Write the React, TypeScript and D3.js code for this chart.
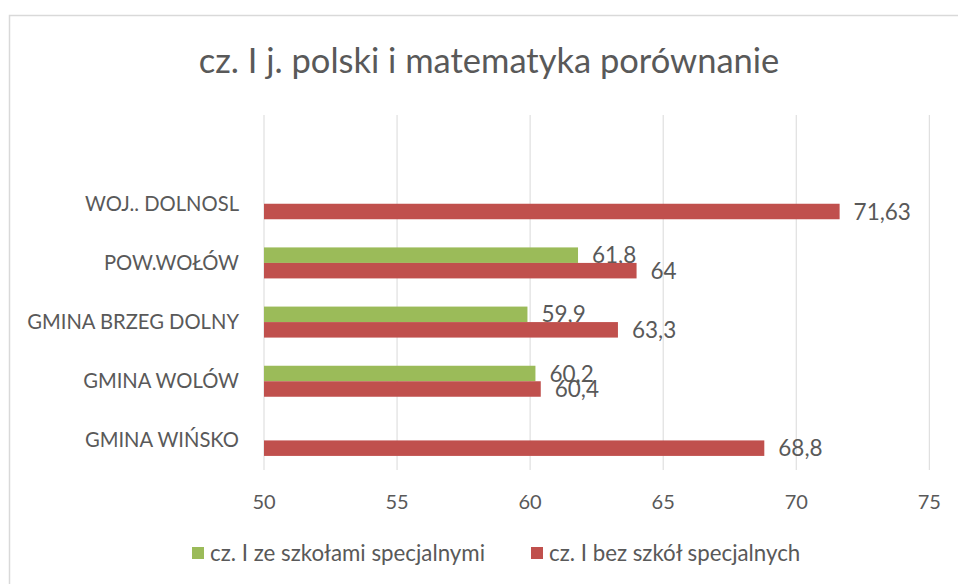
import React from "react";
import * as d3 from "d3";

const title = "cz. I j. polski i matematyka porównanie";
const categories = ["", "WOJ.. DOLNOSL", "POW.WOŁÓW", "GMINA BRZEG DOLNY", "GMINA WOLÓW", "GMINA WIŃSKO"];
const seriesNames = ["cz. I ze szkołami specjalnymi", "cz. I bez szkół specjalnych"];
const withSpecial: (number | null)[] = [null, null, 61.8, 59.9, 60.2, null];
const withoutSpecial: (number | null)[] = [null, 71.63, 64, 63.3, 60.4, 68.8];
const xTicks = [50, 55, 60, 65, 70, 75];
const colors = ["#9BBB59", "#C0504D"];

const W = 958;
const H = 584;
const FONT = "Lato, 'Open Sans', sans-serif";
const TEXT = "#595959";

export default function App() {
  const x = d3.scaleLinear().domain([50, 75]).range([264, 929.3]);
  const y = d3.scaleBand<string>().domain(categories.map((c, i) => String(i))).range([115, 470]).padding(0);
  const bw = y.bandwidth();
  const barH = bw * 0.262;
  const series = [withSpecial, withoutSpecial];
  const fmt = (v: number) => String(v).replace(".", ",");

  return (
    <svg width={W} height={H} style={{ position: "absolute", left: 0, top: 0, background: "#fff" }} fontFamily={FONT}>
      <rect x={0} y={0} width={W} height={H} fill="#fff" />
      <rect x={9.5} y={15.5} width={980} height={620} fill="none" stroke="#D9D9D9" strokeWidth={1.5} />
      <text x={489} y={73} textAnchor="middle" fontSize={34.5} fill={TEXT}>{title}</text>
      {xTicks.map((t) => (
        <g key={t}>
          <line x1={x(t)} x2={x(t)} y1={115} y2={470} stroke="#D9D9D9" strokeWidth={1} />
          <text x={x(t)} y={509} textAnchor="middle" fontSize={20} fill={TEXT}>{t}</text>
        </g>
      ))}
      {categories.map((c, i) => {
        const cy = (y(String(i)) as number) + bw / 2;
        return (
          <g key={"c" + i}>
            <text x={239} y={cy} dy="0.35em" textAnchor="end" fontSize={20.2} fill={TEXT}>{c}</text>
            {series.map((s, si) => {
              const v = s[i];
              if (v == null) return null;
              const by = si === 0 ? cy - barH : cy;
              return (
                <g key={si}>
                  <rect x={x(50)} y={by} width={x(v) - x(50)} height={barH} fill={colors[si]} />
                  <text x={x(v) + 14} y={by + barH / 2} dy="0.36em" fontSize={22.5} fill={TEXT}>{fmt(v)}</text>
                </g>
              );
            })}
          </g>
        );
      })}
      {seriesNames.map((n, i) => {
        const lx = i === 0 ? 192 : 531;
        return (
          <g key={n}>
            <rect x={lx} y={547} width={12} height={12} fill={colors[i]} />
            <text x={lx + 18} y={553} dy="0.35em" fontSize={22.3} fill={TEXT}>{n}</text>
          </g>
        );
      })}
    </svg>
  );
}
